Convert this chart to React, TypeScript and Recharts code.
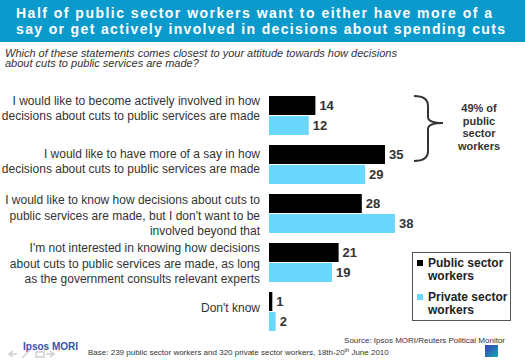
import React from 'react';
import { BarChart, Bar, XAxis, YAxis, LabelList } from 'recharts';

const categories = [
  "I would like to become actively involved in how\ndecisions about cuts to public services are made",
  "I would like to have more of a say in how\ndecisions about cuts to public services are made",
  "I would like to know how decisions about cuts to\npublic services are made, but I don't want to be\ninvolved beyond that",
  "I'm not interested in knowing how decisions\nabout cuts to public services are made, as long\nas the government consults relevant experts",
  "Don't know",
];
const publicSector = [14, 35, 28, 21, 1];
const privateSector = [12, 29, 38, 19, 2];
const seriesNames = ["Public sector workers", "Private sector workers"];
const titleLines = [
  "Half of public sector workers want to either have more of a",
  "say or get actively involved in decisions about spending cuts",
];
const subtitleLines = [
  "Which of these statements comes closest to your attitude towards how decisions",
  "about cuts to public services are made?",
];
const braceLines = ["49% of", "public", "sector", "workers"];
const sourceText = "Source: Ipsos MORI/Reuters Political Monitor";
const baseText = ["Base: 239 public sector workers and 320 private sector workers, 18th-20", "th", " June 2010"];

const FONT = '"Liberation Sans", Arial, sans-serif';
const COLORS = ["#000000", "#6AD8FC"];
const TICK_OFFSETS = [-7, -3, 2, 1, -4];

const data = categories.map((c, i) => ({
  category: c,
  pub: publicSector[i],
  priv: privateSector[i],
}));

const LabelTick = (props: any) => {
  const { x, y, payload, index } = props;
  const lines: string[] = String(payload.value).split('\n');
  const lh = 15.5;
  const off = TICK_OFFSETS[index] ?? 0;
  const startY = y + off - ((lines.length - 1) * lh) / 2;
  return (
    <text x={x} y={startY} textAnchor="end" fontSize={12} fill="#333" fontFamily={FONT}>
      {lines.map((l, i) => (
        <tspan key={i} x={x} y={startY + i * lh} dy="0.35em">
          {l}
        </tspan>
      ))}
    </text>
  );
};

const splitName = (n: string) => {
  const k = n.lastIndexOf(' ');
  return [n.slice(0, k), n.slice(k + 1)];
};

export default function App() {
  return (
    <div style={{ position: 'absolute', left: 0, top: 0, width: 525, height: 361, background: '#fff', fontFamily: FONT }}>
      <svg width={525} height={361} style={{ position: 'absolute', left: 0, top: 0 }}>
        <rect x={0} y={0} width={525} height={42} fill="#0A9ACB" />
        {titleLines.map((t, i) => (
          <text key={i} x={16} y={17.5 + i * 16} fill="#fff" fontSize={14} fontWeight="bold" fontFamily={FONT}
            textLength={i === 0 ? 476 : 489} lengthAdjust="spacing">
            {t}
          </text>
        ))}
        {subtitleLines.map((t, i) => (
          <text key={i} x={5} y={56.5 + i * 10.5} fill="#333" fontSize={11} fontStyle="italic" fontFamily={FONT}>
            {t}
          </text>
        ))}
      </svg>
      <div style={{ position: 'absolute', left: 0, top: 0 }}>
        <BarChart
          width={525}
          height={361}
          data={data}
          layout="vertical"
          margin={{ top: 91, right: 24, bottom: 25, left: 0 }}
          barGap={1}
          barCategoryGap={5}
          style={{ fontFamily: FONT }}
        >
          <XAxis type="number" domain={[0, 70]} hide />
          <YAxis
            type="category"
            dataKey="category"
            width={269}
            tickLine={false}
            axisLine={false}
            tickSize={6}
            tickMargin={3}
            interval={0}
            tick={<LabelTick />}
          />
          <Bar dataKey="pub" name={seriesNames[0]} fill={COLORS[0]} barSize={19} isAnimationActive={false}>
            <LabelList dataKey="pub" position="right" offset={4} fill="#333" fontSize={13} fontWeight="bold" fontFamily={FONT} />
          </Bar>
          <Bar dataKey="priv" name={seriesNames[1]} fill={COLORS[1]} barSize={19} isAnimationActive={false}>
            <LabelList dataKey="priv" position="right" offset={4} fill="#333" fontSize={13} fontWeight="bold" fontFamily={FONT} />
          </Bar>
        </BarChart>
      </div>
      <svg width={525} height={361} style={{ position: 'absolute', left: 0, top: 0, pointerEvents: 'none' }}>
        <path
          d="M414,96 Q428,96 428,106 L428,117 Q428,123 443,123 Q428,123 428,129 L428,151 Q428,161 414,161"
          fill="none"
          stroke="#333"
          strokeWidth={2}
        />
        <text x={479} y={112} textAnchor="middle" fontSize={11} fontWeight="bold" fill="#333" fontFamily={FONT}>
          {braceLines.map((t, i) => (
            <tspan key={i} x={479} y={112 + i * 12.7}>{t}</tspan>
          ))}
        </text>
        <rect x={412.5} y={252.5} width={98} height={68} fill="#fff" stroke="#555" strokeWidth={1} />
        {seriesNames.map((n, i) => {
          const [a, b] = splitName(n);
          const y0 = 267 + i * 34;
          return (
            <g key={i}>
              <rect x={417} y={y0 - 7} width={6} height={6} fill={COLORS[i]} />
              <text x={428} y={y0} fontSize={12} fontWeight="bold" fill="#222" fontFamily={FONT}>{a}</text>
              <text x={428} y={y0 + 13} fontSize={12} fontWeight="bold" fill="#222" fontFamily={FONT}>{b}</text>
            </g>
          );
        })}
        <text x={505} y={342.5} textAnchor="end" fontSize={8} fill="#333" fontFamily={FONT}>{sourceText}</text>
        <text x={88} y={355} fontSize={8} fill="#333" fontFamily={FONT}>
          {baseText[0]}
          <tspan fontSize={5.5} dy={-3}>{baseText[1]}</tspan>
          <tspan dy={3}>{baseText[2]}</tspan>
        </text>
        <text x={23} y={350} fontSize={10} fontWeight="bold" fill="#3355AA" fontFamily={FONT}>Ipsos MORI</text>
        <g stroke="#cfcfcf" strokeWidth={1.5} fill="none">
          <path d="M13,351 L9,354 L13,357 M9,354 L17,354" />
          <path d="M22,358 L30,350" />
          <path d="M36,352 h8 v5 h-8 z" />
          <path d="M50,351 L54,354 L50,357 M46,354 L54,354" />
        </g>
        <defs>
          <linearGradient id="lg" x1="0" y1="0" x2="1" y2="1">
            <stop offset="0" stopColor="#3B3FB5" />
            <stop offset="1" stopColor="#14A6B5" />
          </linearGradient>
        </defs>
        <rect x={485} y={345} width={13} height={12} fill="url(#lg)" />
      </svg>
    </div>
  );
}
